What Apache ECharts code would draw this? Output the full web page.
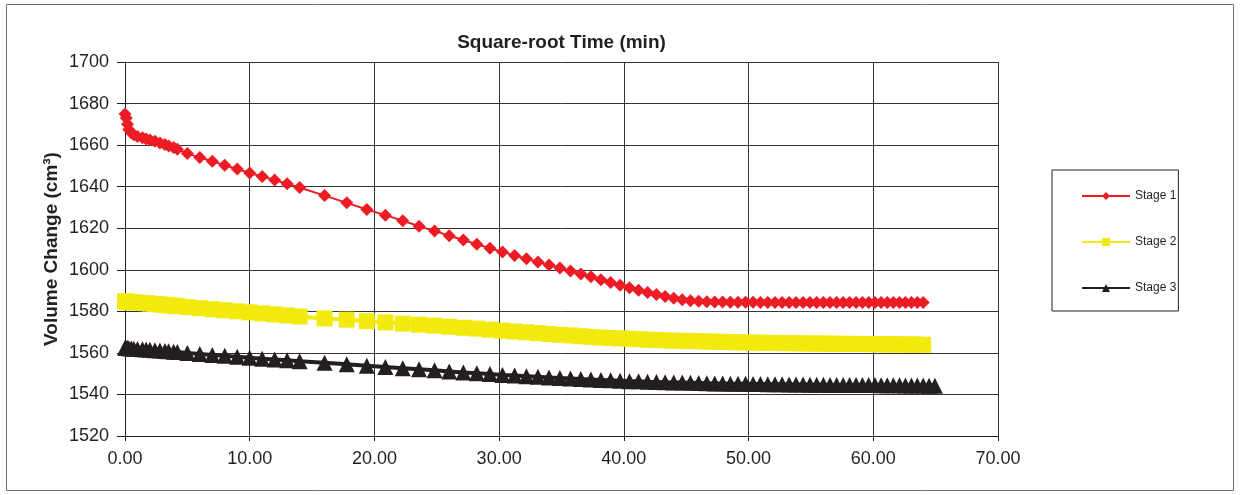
<!DOCTYPE html>
<html>
<head>
<meta charset="utf-8">
<script src="https://cdn.jsdelivr.net/npm/echarts@6/dist/echarts.min.js"></script>
<style>
  html, body { margin: 0; padding: 0; background: #ffffff; }
  #chart { width: 1241px; height: 495px; }
</style>
</head>
<body>
<div id="chart"></div>
<script>
// Square-root time (x values, shared by all stages)
const timeRoot = [
  0, 0.1, 0.2, 0.3, 0.5, 0.7, 1, 1.4, 1.7, 2, 2.4, 2.8, 3.2, 3.5, 3.9, 4.2,
  5, 6, 7, 8, 9, 10, 11, 12, 13, 14,
  16, 17.78, 19.39, 20.88, 22.27, 23.58, 24.82, 26.0, 27.13, 28.21,
  29.26, 30.27, 31.24, 32.19, 33.11, 34.0, 34.87, 35.72, 36.55, 37.36,
  38.16, 38.94, 39.7, 40.45, 41.18, 41.9, 42.61, 43.31, 44.0, 44.68,
  45.34, 46.0, 46.65, 47.29, 47.92, 48.54, 49.15, 49.76, 50.36, 50.95,
  51.54, 52.12, 52.69, 53.25, 53.81, 54.37, 54.92, 55.46, 56.0, 56.53,
  57.06, 57.58, 58.1, 58.62, 59.13, 59.63, 60.13, 60.63, 61.12, 61.61,
  62.1, 62.58, 63.06, 63.53, 64.0, 64.47, 64.94
];
const stage1 = [
  1675, 1673, 1670, 1667.5, 1666, 1665, 1664.2, 1663.6, 1663, 1662.5, 1661.8, 1661, 1660.3, 1659.6, 1658.8, 1658,
  1656, 1654, 1652.2, 1650.3, 1648.5, 1646.6, 1644.9, 1643.2, 1641.4, 1639.6,
  1635.7, 1632.2, 1629, 1626.3, 1623.6, 1621, 1618.7, 1616.4, 1614.3, 1612.3,
  1610.4, 1608.6, 1606.9, 1605.3, 1603.8, 1602.3, 1600.9, 1599.4, 1598, 1596.6,
  1595.2, 1593.9, 1592.6, 1591.4, 1590.2, 1589.1, 1588.1, 1587.1, 1586.3, 1585.6,
  1585.1, 1584.8, 1584.6, 1584.5, 1584.5, 1584.4, 1584.4, 1584.4, 1584.4, 1584.3,
  1584.3, 1584.3, 1584.3, 1584.3, 1584.3, 1584.3, 1584.3, 1584.2, 1584.2, 1584.2,
  1584.2, 1584.2, 1584.2, 1584.2, 1584.2, 1584.2, 1584.2, 1584.2, 1584.2, 1584.2,
  1584.2, 1584.2, 1584.2, 1584.2, 1584.2, null, null
];
const stage2 = [
  1584.8, 1584.7, 1584.6, 1584.5, 1584.4, 1584.3, 1584.2, 1584, 1583.9, 1583.7, 1583.5, 1583.3, 1583.1, 1582.9, 1582.7, 1582.5,
  1582, 1581.5, 1581, 1580.5, 1580, 1579.5, 1579, 1578.5, 1578, 1577.5,
  1576.6, 1576, 1575.3, 1574.7, 1574.1, 1573.6, 1573.1, 1572.6, 1572.1, 1571.7,
  1571.2, 1570.7, 1570.3, 1569.9, 1569.5, 1569.1, 1568.7, 1568.4, 1568.0, 1567.7,
  1567.4, 1567.2, 1567.0, 1566.8, 1566.6, 1566.4, 1566.2, 1566.0, 1565.9, 1565.8,
  1565.7, 1565.6, 1565.5, 1565.4, 1565.3, 1565.2, 1565.1, 1565.0, 1564.9, 1564.9,
  1564.8, 1564.8, 1564.7, 1564.7, 1564.6, 1564.6, 1564.5, 1564.5, 1564.5, 1564.4,
  1564.4, 1564.4, 1564.3, 1564.3, 1564.3, 1564.2, 1564.2, 1564.2, 1564.1, 1564.1,
  1564.1, 1564.0, 1564.0, 1564.0, 1563.9, null, null
];
const stage3 = [
  1562.5, 1562.4, 1562.3, 1562.2, 1562.1, 1562, 1561.9, 1561.7, 1561.6, 1561.5, 1561.3, 1561.1, 1560.9, 1560.8, 1560.6, 1560.4,
  1560, 1559.5, 1559, 1558.6, 1558.1, 1557.7, 1557.2, 1556.8, 1556.4, 1556,
  1555.2, 1554.5, 1553.8, 1553.2, 1552.6, 1552.1, 1551.6, 1551.1, 1550.6, 1550.2,
  1549.8, 1549.4, 1549.1, 1548.8, 1548.5, 1548.2, 1547.9, 1547.7, 1547.4, 1547.2,
  1547, 1546.8, 1546.6, 1546.4, 1546.3, 1546.1, 1546, 1545.9, 1545.8, 1545.7,
  1545.6, 1545.5, 1545.4, 1545.3, 1545.3, 1545.2, 1545.1, 1545.1, 1545, 1545,
  1544.9, 1544.9, 1544.9, 1544.8, 1544.8, 1544.8, 1544.7, 1544.7, 1544.7, 1544.6,
  1544.6, 1544.6, 1544.6, 1544.5, 1544.5, 1544.5, 1544.5, 1544.4, 1544.4, 1544.4,
  1544.4, 1544.3, 1544.3, 1544.3, 1544.3, 1544.2, 1544.2
];
const seriesNames = ['Stage 1', 'Stage 2', 'Stage 3'];
const xTitle = 'Square-root Time (min)';
const yTitle = 'Volume Change (cm\u00B3)';

const FONT = '"Liberation Sans", Arial, Helvetica, sans-serif';
const INK = '#231f20';

function pairs(vals) { return timeRoot.map((x, i) => [x, vals[i]]); }

const chart = echarts.init(document.getElementById('chart'), null, { renderer: 'canvas' });
chart.setOption({
  animation: false,
  backgroundColor: '#ffffff',
  textStyle: { fontFamily: FONT },
  grid: { left: 125, right: 243, top: 62, bottom: 59, containLabel: false, outerBoundsMode: 'none' },
  graphic: [
    { type: 'rect', shape: { x: 6.5, y: 4.5, width: 1227, height: 486 }, style: { fill: 'none', stroke: '#6d6e71', lineWidth: 1 }, silent: true },
    { type: 'text', x: 561.5, y: 43, style: { text: xTitle, font: 'bold 19px ' + FONT, fill: INK, textAlign: 'center', textVerticalAlign: 'middle' } },
    { type: 'text', x: 52, y: 249, rotation: Math.PI / 2, style: { text: yTitle, font: 'bold 19px ' + FONT, fill: INK, textAlign: 'center', textVerticalAlign: 'middle' } }
  ],
  legend: {
    orient: 'vertical',
    left: 1052, top: 170,
    data: seriesNames,
    itemWidth: 48, itemHeight: 10, itemGap: 34,
    padding: [20, 2, 17, 29],
    borderColor: INK, borderWidth: 1,
    textStyle: { fontSize: 12, color: INK, fontFamily: FONT }
  },
  xAxis: {
    type: 'value', min: 0, max: 70, interval: 10,
    axisLine: { show: true, onZero: false, lineStyle: { color: INK, width: 1 } },
    axisTick: { show: true, inside: false, length: 5, lineStyle: { color: INK } },
    axisLabel: { color: INK, fontSize: 18, margin: 14, formatter: v => v.toFixed(2) },
    splitLine: { show: true, lineStyle: { color: '#333333', width: 1 } }
  },
  yAxis: {
    type: 'value', min: 1520, max: 1700, interval: 20,
    axisLine: { show: true, lineStyle: { color: INK, width: 1 } },
    axisTick: { show: true, inside: false, length: 8, lineStyle: { color: INK } },
    axisLabel: { color: INK, fontSize: 18, margin: 16, formatter: v => String(v) },
    splitLine: { show: true, lineStyle: { color: '#333333', width: 1 } }
  },
  series: [
    {
      name: seriesNames[0], type: 'line', data: pairs(stage1),
      symbol: 'diamond', symbolSize: 13, showAllSymbol: true,
      color: '#ed1c24', lineStyle: { width: 2, color: '#ed1c24' }, itemStyle: { color: '#ed1c24' },
      z: 4
    },
    {
      name: seriesNames[1], type: 'line', data: pairs(stage2),
      symbol: 'rect', symbolSize: 16, showAllSymbol: true,
      color: '#f2ea0d', lineStyle: { width: 4, color: '#f2ea0d' }, itemStyle: { color: '#f2ea0d' },
      z: 3
    },
    {
      name: seriesNames[2], type: 'line', data: pairs(stage3),
      symbol: 'triangle', symbolSize: 16, showAllSymbol: true,
      color: INK, lineStyle: { width: 4, color: INK }, itemStyle: { color: INK },
      z: 3
    }
  ]
});
</script>
</body>
</html>
